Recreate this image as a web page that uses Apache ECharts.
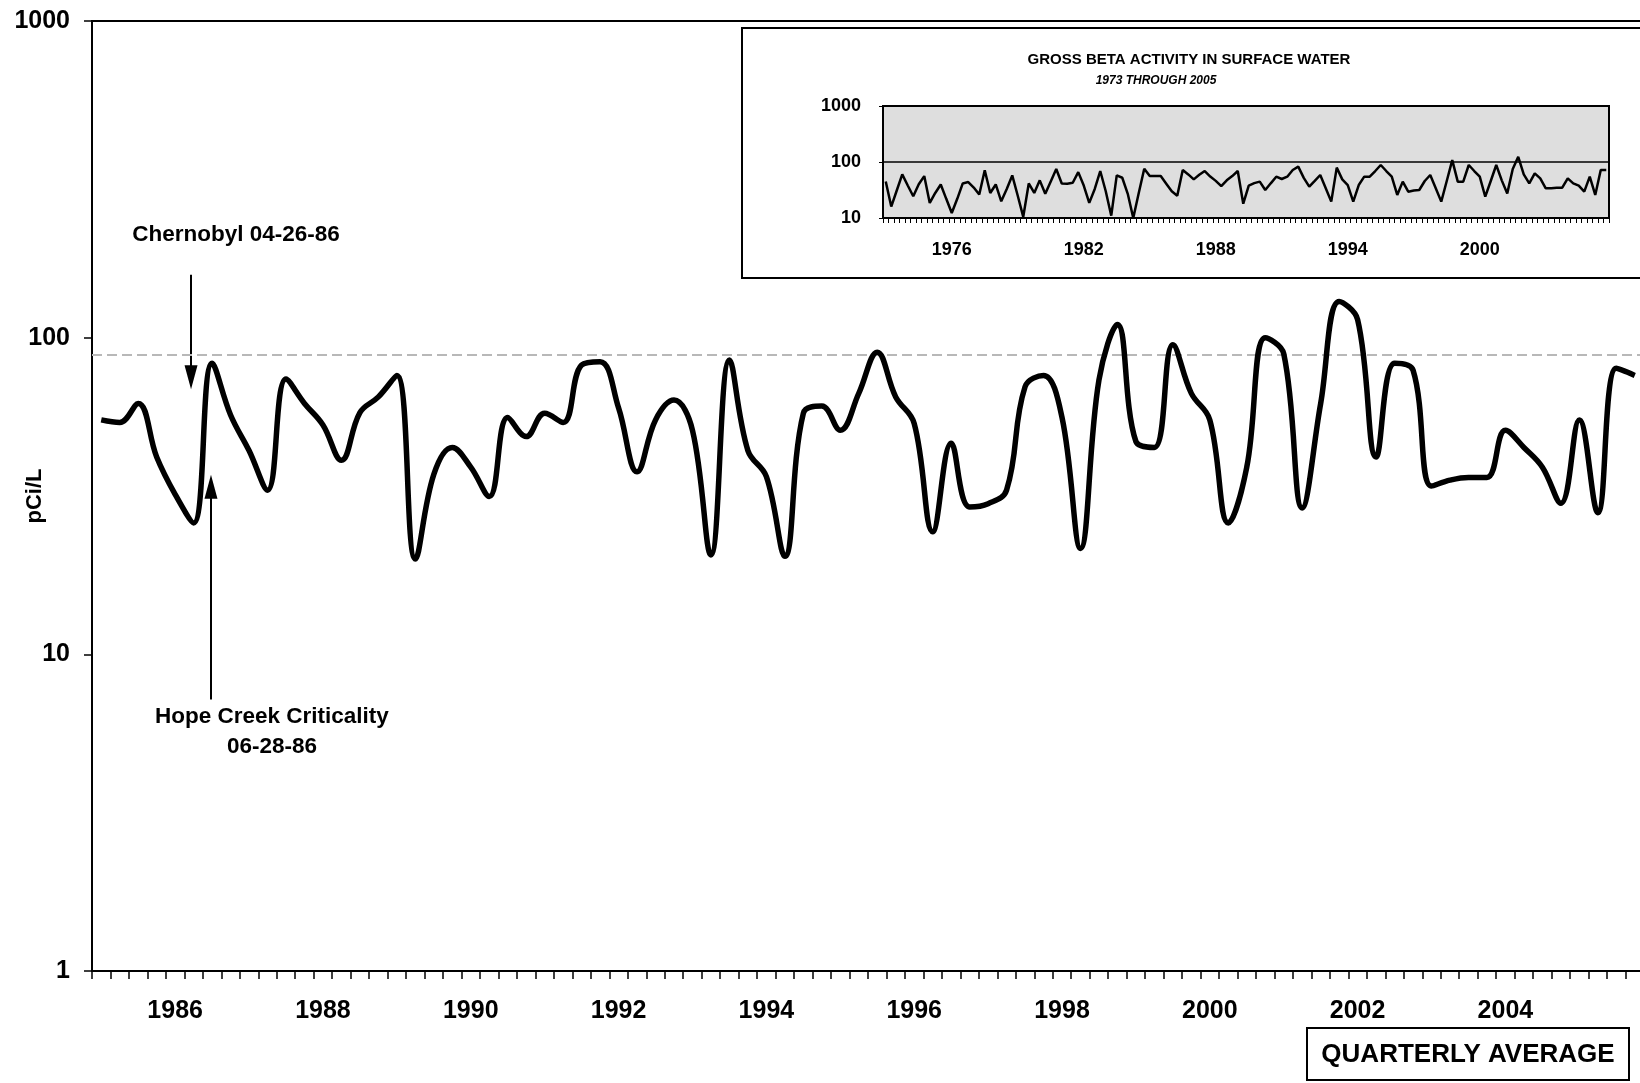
<!DOCTYPE html>
<html>
<head>
<meta charset="utf-8">
<script src="https://cdn.jsdelivr.net/npm/echarts@6/dist/echarts.min.js"></script>
<style>
html,body{margin:0;padding:0;background:#fff;}
#c{width:1640px;height:1083px;}
</style>
</head>
<body>
<div id="c"></div>
<script>
// ---------- DATA ----------
const mainYears = [1985,1986,1987,1988,1989,1990,1991,1992,1993,1994,1995,1996,1997,1998,1999,2000,2001,2002,2003,2004,2005];
const mainQuarterly = [55,54,62,42,32,26,83,57,44,33,74,62,53,41,58,65,76,20,37,45,
  39,31.5,56,48.7,57.7,54,82,84,60,37.7,55,63.5,51,20.6,85,44,36.4,20.4,57.7,60.8,
  51,66.7,90,65,53.6,24.4,46.4,29.2,29.9,33,70,76,56,21.6,73.5,110,47,45,95,66.7,
  55,26,39,100,89,29,62,130,114,42,83,79,34,35.5,36.2,36.2,51,45,39,30,
  55,28,80,76];
const mainTickLabels = ['1986','1988','1990','1992','1994','1996','1998','2000','2002','2004'];
const mainYTicks = [1,10,100,1000];

const insetYears = [];
for (let y = 1973; y <= 2005; y++) insetYears.push(y);
const insetQuarterly = [45,16,31,60,38,24.5,40,56,18.6,28,39.7,22,12.3,22,41.4,43.8,35,26.2,71,28,
  39.7,19.9,33,57.6,25,10.5,41.4,28,47,27,45,75,41.4,41,42.6,66,38,18.6,33,69,
  30,11,57.6,52.3,27,10,28,76,56,56,56,41,30,25,72,60,49,59,69,55,
  46,37,47,56,69,18,38,42,44.6,31.6,41.6,54.7,49.7,54.7,72,82.6,52,36.3,46,58.6,
  34,19.6,79.3,49,38.8,19.6,38.8,54.7,54.7,69,88.4,69,54.7,25.8,44.6,29.5,31,31.6,45.8,58.6,
  33.9,19.6,45.8,108,44.6,44.6,88.4,69,54.7,24,45.8,88.4,47,27.5,75,124,60,41.6,62.8,51,
  33.9,34,34.8,34.8,51,41.6,37.8,29.5,54.7,25.8,72,72];
const insetTickLabels = ['1976','1982','1988','1994','2000'];

// annotation positions (x in quarters since 1985 Q1, y in pCi/L)
const arrowX = [5.36, 6.44];
const arrowFrom = [158, 7.2];
const arrowTo = [75, 33.8];
const noteText = ['Chernobyl 04-26-86', 'Hope Creek Criticality\n06-28-86'];
const noteX = [7.79, 9.74];
const noteY = [212, 5.68];
const ghostLevel = 88;

// ---------- BUILD ----------
const FONT = 'Arial, "Liberation Sans", Helvetica, sans-serif';
const quarterNames = ['Q1','Q2','Q3','Q4'];
const mainCats = [];
mainYears.forEach(y => quarterNames.forEach(q => mainCats.push(y + ' ' + q)));
const insetCats = [];
insetYears.forEach(y => quarterNames.forEach(q => insetCats.push(y + ' ' + q)));

function labelInterval(list) {
  return function (idx, val) {
    return val.slice(5) === 'Q1' && list.indexOf(val.slice(0, 4)) >= 0;
  };
}

const chart = echarts.init(document.getElementById('c'), null, {renderer: 'canvas'});

const arrowData = arrowX.map((x, k) => [
  {coord: [x, arrowFrom[k]], symbol: 'none'},
  {coord: [x, arrowTo[k]], symbol: 'triangle', symbolSize: [13, 24]}
]);
arrowData.push([
  {coord: [0, ghostLevel], symbol: 'none', lineStyle: {color: '#b8b8b8', width: 2, type: [10, 5]}},
  {coord: [84, ghostLevel], symbol: 'none'}
]);

const option = {
  animation: false,
  backgroundColor: '#fff',
  grid: [
    {left: 92, top: 21, right: -4, bottom: 112, show: true, borderColor: '#000', borderWidth: 2,
      backgroundColor: 'rgba(0,0,0,0)', containLabel: false, outerBoundsMode: 'none'},
    {left: 883, top: 106, width: 726, height: 112, show: true, borderColor: '#000', borderWidth: 2,
      backgroundColor: '#dedede', containLabel: false, outerBoundsMode: 'none'}
  ],
  xAxis: [
    {
      type: 'category', gridIndex: 0, data: mainCats, boundaryGap: true,
      axisLine: {lineStyle: {color: '#000', width: 2}},
      axisTick: {show: true, interval: 0, length: 8, lineStyle: {color: '#000', width: 1.5}},
      axisLabel: {interval: labelInterval(mainTickLabels), formatter: v => v.slice(0, 4),
        margin: 28, fontSize: 25, fontWeight: 'bold', color: '#000', fontFamily: FONT},
      splitLine: {show: false}
    },
    {
      type: 'category', gridIndex: 1, data: insetCats, boundaryGap: true,
      axisLine: {lineStyle: {color: '#000', width: 2}},
      axisTick: {show: true, interval: 0, length: 5, lineStyle: {color: '#000', width: 1}},
      axisLabel: {interval: labelInterval(insetTickLabels), formatter: v => v.slice(0, 4),
        margin: 23, fontSize: 18, fontWeight: 'bold', color: '#000', fontFamily: FONT},
      splitLine: {show: false}
    },
    {type: 'value', gridIndex: 0, min: 0, max: 84, show: false}
  ],
  yAxis: [
    {
      type: 'log', logBase: 10, gridIndex: 0, min: 1, max: 1000,
      name: 'pCi/L', nameLocation: 'middle', nameGap: 46, nameRotate: 90, nameMoveOverlap: false,
      nameTextStyle: {fontSize: 22, fontWeight: 'bold', color: '#000', fontFamily: FONT},
      axisLine: {show: true, lineStyle: {color: '#000', width: 2}},
      axisTick: {show: true, length: 8, lineStyle: {color: '#000', width: 1.5}},
      axisLabel: {formatter: v => String(mainYTicks.find(t => Math.abs(t - v) < 1e-6 * t) || Math.round(v)),
        margin: 22, fontSize: 25, fontWeight: 'bold', color: '#000', fontFamily: FONT},
      splitLine: {show: false}
    },
    {
      type: 'log', logBase: 10, gridIndex: 1, min: 10, max: 1000,
      axisLine: {show: true, lineStyle: {color: '#000', width: 2}},
      axisTick: {show: true, length: 4, lineStyle: {color: '#000', width: 1}},
      axisLabel: {formatter: v => String(Math.round(v)),
        margin: 22, fontSize: 18, fontWeight: 'bold', color: '#000', fontFamily: FONT},
      splitLine: {show: true, lineStyle: {color: '#000', width: 1.5}}
    }
  ],
  series: [
    {
      type: 'line', xAxisIndex: 0, yAxisIndex: 0, data: mainQuarterly,
      smooth: 0.4, symbol: 'none', z: 5,
      lineStyle: {color: '#000', width: 5.5}
    },
    {
      type: 'line', xAxisIndex: 1, yAxisIndex: 1, data: insetQuarterly,
      symbol: 'none', z: 5,
      lineStyle: {color: '#000', width: 2.5}
    },
    {
      type: 'line', xAxisIndex: 2, yAxisIndex: 0, data: [],
      symbol: 'none', silent: true,
      markLine: {
        silent: true, animation: false,
        label: {show: false},
        lineStyle: {color: '#000', width: 2, type: 'solid'},
        data: arrowData
      },
      markPoint: {
        silent: true, animation: false,
        symbol: 'rect', symbolSize: 1,
        itemStyle: {color: 'rgba(0,0,0,0)'},
        label: {show: true, position: 'inside', formatter: '{b}', color: '#000',
          fontSize: 22.5, fontWeight: 'bold', fontFamily: FONT, lineHeight: 30, align: 'center'},
        data: noteText.map((t, k) => ({name: t, coord: [noteX[k], noteY[k]]}))
      }
    }
  ],
  graphic: [
    {type: 'rect', z: -10, shape: {x: 742, y: 28, width: 1000, height: 250},
      style: {fill: '#fff', stroke: '#000', lineWidth: 2}},
    {type: 'text', x: 1189, y: 60, style: {text: 'GROSS BETA ACTIVITY IN SURFACE WATER',
      font: 'bold 15px ' + FONT, fill: '#000', textAlign: 'center', textVerticalAlign: 'middle'}},
    {type: 'text', x: 1156, y: 81, style: {text: '1973 THROUGH 2005',
      font: 'italic bold 12px ' + FONT, fill: '#000', textAlign: 'center', textVerticalAlign: 'middle'}},
    {type: 'rect', shape: {x: 1307, y: 1028, width: 322, height: 52},
      style: {fill: '#fff', stroke: '#000', lineWidth: 2}},
    {type: 'text', x: 1468, y: 1055, style: {text: 'QUARTERLY AVERAGE',
      font: 'bold 26px ' + FONT, fill: '#000', textAlign: 'center', textVerticalAlign: 'middle'}}
  ]
};
chart.setOption(option);
</script>
</body>
</html>
